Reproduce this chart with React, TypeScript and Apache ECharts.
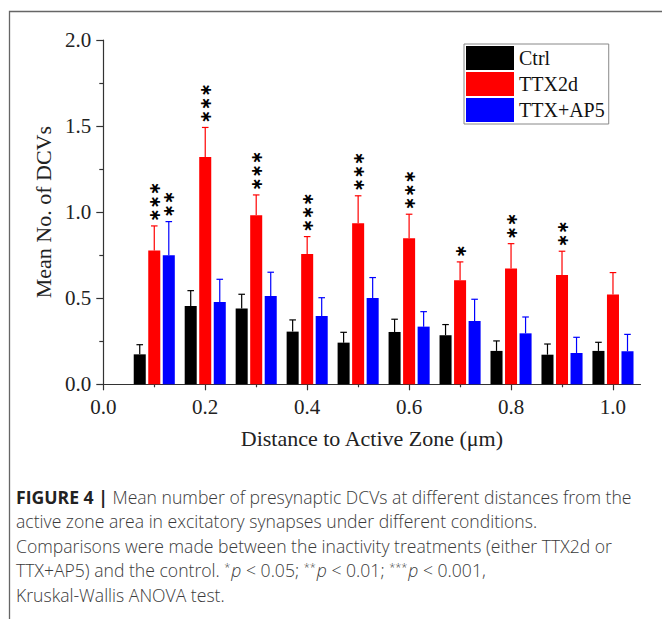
import React, { useEffect, useRef } from "react";
import * as echarts from "echarts";

// ---- data ----
const distances = [0.1, 0.2, 0.3, 0.4, 0.5, 0.6, 0.7, 0.8, 0.9, 1.0];
const seriesNames = ["Ctrl", "TTX2d", "TTX+AP5"];
const seriesColors = ["#000000", "#ff0000", "#0000ff"];
const ctrlMean = [0.174, 0.455, 0.44, 0.306, 0.242, 0.304, 0.285, 0.194, 0.172, 0.194];
const ctrlErr = [0.056, 0.089, 0.083, 0.068, 0.06, 0.074, 0.062, 0.058, 0.062, 0.05];
const ttx2dMean = [0.777, 1.32, 0.982, 0.757, 0.936, 0.849, 0.605, 0.672, 0.635, 0.521];
const ttx2dErr = [0.143, 0.172, 0.118, 0.101, 0.159, 0.139, 0.106, 0.145, 0.138, 0.128];
const ttxAp5Mean = [0.75, 0.478, 0.513, 0.397, 0.502, 0.335, 0.368, 0.296, 0.182, 0.192];
const ttxAp5Err = [0.195, 0.132, 0.138, 0.106, 0.118, 0.087, 0.126, 0.095, 0.091, 0.098];
const ctrlStars = ["", "", "", "", "", "", "", "", "", ""];
const ttx2dStars = ["***", "***", "***", "***", "***", "***", "*", "**", "**", ""];
const ttxAp5Stars = ["**", "", "", "", "", "", "", "", "", ""];
const yTicks = [0, 0.5, 1.0, 1.5, 2.0];
const xMajorTicks = [0, 0.2, 0.4, 0.6, 0.8, 1.0];
const xMinorTicks = [0.1, 0.3, 0.5, 0.7, 0.9];
const captionLines = [
  "{b|FIGURE 4 |} Mean number of presynaptic DCVs at different distances from the",
  "active zone area in excitatory synapses under different conditions.",
  "Comparisons were made between the inactivity treatments (either TTX2d or",
  "TTX+AP5) and the control. {s|*}{i|p} < 0.05; {s|**}{i|p} < 0.01; {s|***}{i|p} < 0.001,",
  "Kruskal-Wallis ANOVA test.",
];

const SERIF = "'Liberation Serif', 'Times New Roman', serif";
const SANS = "'Open Sans', 'Liberation Sans', Arial, sans-serif";
const CAP_SIZE = 17.6;

export default function App() {
  const ref = useRef<HTMLDivElement>(null);
  useEffect(() => {
    if (!ref.current) return;
    const chart = echarts.init(ref.current, null, { renderer: "svg" });
    const means = [ctrlMean, ttx2dMean, ttxAp5Mean];
    const errs = [ctrlErr, ttx2dErr, ttxAp5Err];
    const stars = [ctrlStars, ttx2dStars, ttxAp5Stars];
    const barOffsets = [-0.0285, 0, 0.0285];
    const halfW = 0.0118;
    const starStep = 13.3;

    const series = seriesNames.map((name, si) => ({
      type: "custom",
      name,
      xAxisIndex: 0,
      yAxisIndex: 0,
      itemStyle: { color: seriesColors[si] },
      encode: { x: 0, y: 1 },
      data: distances.map((d, i) => [d, means[si][i], errs[si][i]]),
      renderItem: (params: any, api: any) => {
        const x = api.value(0) + barOffsets[si];
        const y = api.value(1);
        const e = api.value(2);
        const p0 = api.coord([x - halfW, y]);
        const p1 = api.coord([x + halfW, 0]);
        const pc = api.coord([x, y]);
        const pt = api.coord([x, y + e]);
        const color = seriesColors[si];
        const children: any[] = [
          {
            type: "line",
            shape: { x1: pc[0], y1: pc[1], x2: pt[0], y2: pt[1] },
            style: { stroke: color, lineWidth: 1.2 },
          },
          {
            type: "line",
            shape: { x1: pt[0] - 3.3, y1: pt[1], x2: pt[0] + 3.3, y2: pt[1] },
            style: { stroke: color, lineWidth: 1.2 },
          },
          {
            type: "rect",
            shape: { x: p0[0], y: p0[1], width: p1[0] - p0[0], height: p1[1] - p0[1] },
            style: { fill: color },
          },
        ];
        const s = stars[si][params.dataIndex];
        if (s) {
          const n = s.length;
          // one text per mark, a vertical column of asterisks (rotated line)
          children.push({
            type: "text",
            x: pt[0],
            y: pt[1] - 4 - (n * starStep) / 2,
            rotation: Math.PI / 2,
            style: {
              text: s.split("").map(() => "\u2217").join(""),
              x: 0,
              y: 0,
              align: "center",
              verticalAlign: "middle",
              fontFamily: "'DejaVu Sans', sans-serif",
              fontWeight: "bold",
              fontSize: 15.9,
              fill: "#000",
            },
          });
        }
        return { type: "group", children };
      },
    }));

    const axisLineStyle = { color: "#333", width: 1.2 };

    chart.setOption({
      animation: false,
      grid: { left: 103.3, right: 21.5, top: 40, bottom: 234.7, containLabel: false },
      legend: {
        data: seriesNames,
        orient: "vertical",
        left: 464,
        top: 44,
        icon: "rect",
        itemWidth: 48,
        itemHeight: 24,
        itemGap: 2,
        padding: [2, 4, 2, 2],
        borderColor: "#888",
        borderWidth: 1,
        textStyle: { fontFamily: SERIF, fontSize: 20, color: "#111" },
      },
      xAxis: [
        {
          type: "value",
          position: "bottom",
          min: 0,
          max: 1.054,
          splitLine: { show: false },
          axisLine: { show: true, lineStyle: axisLineStyle },
          axisTick: { show: true, customValues: xMajorTicks, length: 6, lineStyle: axisLineStyle },
          axisLabel: {
            customValues: xMajorTicks,
            formatter: (v: number) => v.toFixed(1),
            fontFamily: SERIF,
            fontSize: 21,
            color: "#222",
            margin: 12,
          },
          name: "Distance to Active Zone (\u03bcm)",
          nameLocation: "middle",
          nameGap: 43,
          nameTextStyle: { fontFamily: SERIF, fontSize: 22, color: "#222" },
        },
        {
          type: "value",
          position: "bottom",
          min: 0,
          max: 1.054,
          splitLine: { show: false },
          axisLine: { show: false },
          axisTick: { show: true, customValues: xMinorTicks, length: 3, lineStyle: axisLineStyle },
          axisLabel: { show: false },
        },
      ],
      yAxis: {
        type: "value",
        min: 0,
        max: 2,
        interval: 0.5,
        splitLine: { show: false },
        axisLine: { show: true, lineStyle: axisLineStyle },
        axisTick: { show: true, length: 7, lineStyle: axisLineStyle },
        minorTick: { show: true, splitNumber: 2, length: 4, lineStyle: axisLineStyle },
        axisLabel: {
          customValues: yTicks,
          formatter: (v: number) => v.toFixed(1),
          fontFamily: SERIF,
          fontSize: 21,
          color: "#222",
          margin: 12,
        },
        name: "Mean No. of DCVs",
        nameLocation: "middle",
        nameGap: 48,
        nameTextStyle: { fontFamily: SERIF, fontSize: 22, color: "#222" },
      },
      series,
      graphic: [
        {
          type: "polyline",
          shape: { points: [[9.5, 619], [9.5, 11.5], [662, 11.5]] },
          style: { stroke: "#666", lineWidth: 1.3, fill: "none" },
          silent: true,
        },
        ...captionLines.map((t, i) => ({
          type: "text",
          x: 16,
          y: 497 + i * 24.4,
          silent: true,
          style: {
            text: t,
            fontFamily: SANS,
            fontSize: CAP_SIZE,
            fontWeight: 300,
            fill: "#3a3a3a",
            verticalAlign: "middle",
            rich: {
              b: { fontFamily: SANS, fontSize: CAP_SIZE, fontWeight: "bold", fill: "#222" },
              i: { fontFamily: SANS, fontSize: CAP_SIZE, fontWeight: 300, fontStyle: "italic", fill: "#3a3a3a" },
              s: { fontFamily: SANS, fontSize: 11, fontWeight: 300, fill: "#3a3a3a", verticalAlign: "top", padding: [0, 1, 5, 0] },
            },
          },
        })),
      ],
    });
    return () => chart.dispose();
  }, []);
  return (
    <div
      ref={ref}
      style={{ position: "absolute", left: 0, top: 0, width: 662, height: 619, background: "#fff" }}
    />
  );
}
